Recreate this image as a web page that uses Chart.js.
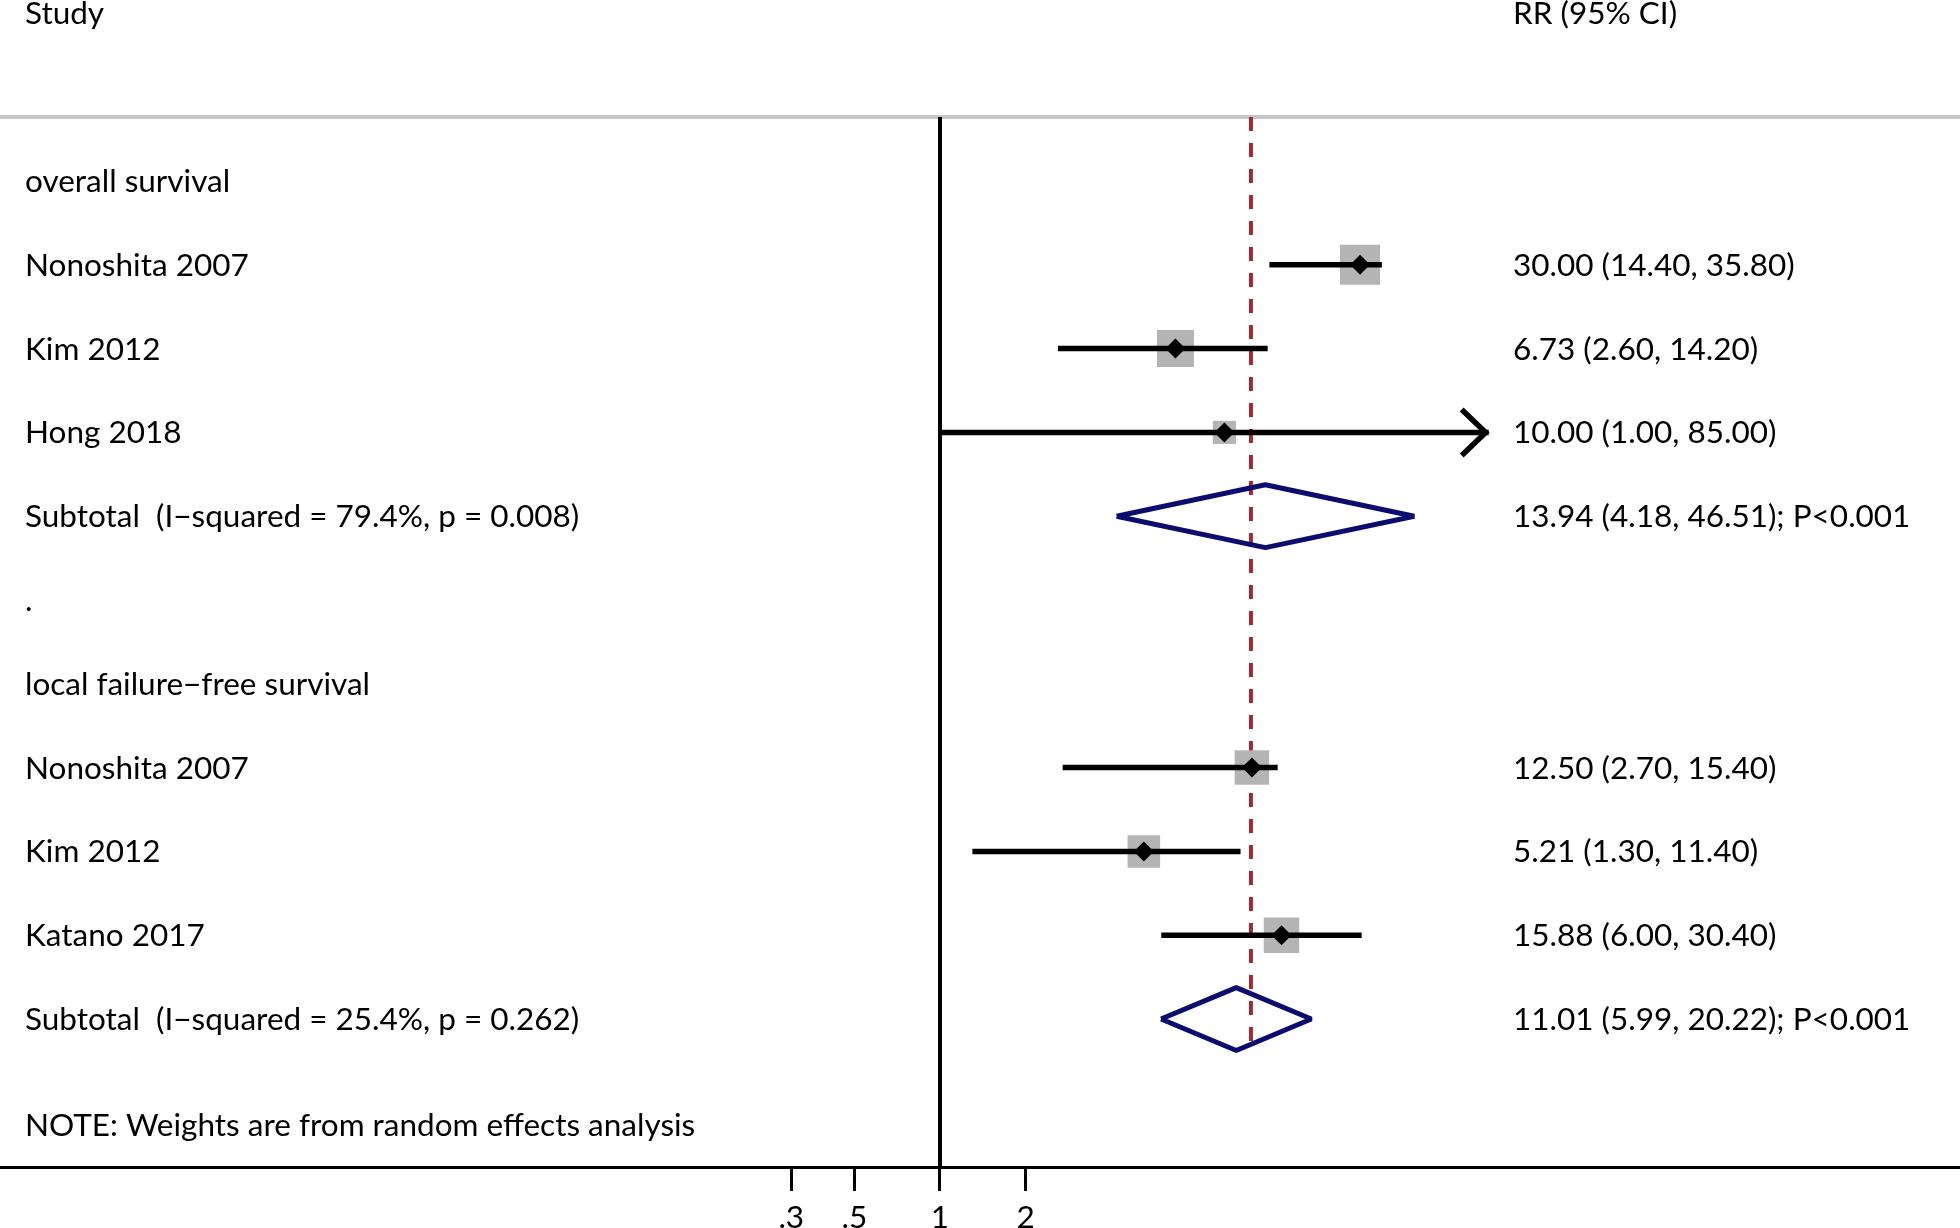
<!DOCTYPE html>
<html>
<head>
<meta charset="utf-8">
<title>Forest plot</title>
<script src="https://cdn.jsdelivr.net/npm/chart.js@4.4.1/dist/chart.umd.min.js"></script>
<style>
  html, body { margin: 0; padding: 0; background: #fff; }
  canvas { display: block; }
</style>
</head>
<body>
<canvas id="forest" width="1960" height="1228"></canvas>
<script>
// --- data ---
const studyLabels = ['Nonoshita 2007', 'Kim 2012', 'Hong 2018', 'Nonoshita 2007', 'Kim 2012', 'Katano 2017'];
const studyRows = [1, 2, 3, 7, 8, 9];
const studyRR = [30.00, 6.73, 10.00, 12.50, 5.21, 15.88];
const studyLo = [14.40, 2.60, 1.00, 2.70, 1.30, 6.00];
const studyHi = [35.80, 14.20, 85.00, 15.40, 11.40, 30.40];
const studyWeight = [45.7, 39.1, 15.2, 33.9, 30.2, 35.9];   // % (from box sizes)
const ciArrow = [false, false, true, false, false, false];

const subLabels = ['Subtotal  (I\u2212squared = 79.4%, p = 0.008)', 'Subtotal  (I\u2212squared = 25.4%, p = 0.262)'];
const subRows = [4, 10];
const subRR = [13.94, 11.01];
const subLo = [4.18, 5.99];
const subHi = [46.51, 20.22];
const subP = ['P<0.001', 'P<0.001'];

const headingLabels = ['overall survival', '.', 'local failure\u2212free survival'];
const headingRows = [0, 5, 6];

const overallRR = 12.4;
const xTicks = [0.3, 0.5, 1, 2];
const xTickLabels = ['.3', '.5', '1', '2'];

// --- layout ---
const X_MIN = Math.exp(-7.611), X_MAX = Math.exp(8.259);
const Y_MIN = -2.16, Y_MAX = 11.766;
const HEADER_ROW = -2, GRID_ROW = -0.764, DASH_END_ROW = 10.39, NOTE_ROW = 11.27;
const DIAMOND_HALF = 0.375;
const BOX_K = 5.92;
const FONT_PX = 31.5;
const LEFT_X = 25, RIGHT_X = 1513;

Chart.defaults.font.family = 'Lato';

const line = (data, color, width, order, extra) => Object.assign({
    data, showLine: true, borderColor: color, borderWidth: width,
    pointRadius: 0, fill: false, tension: 0, borderCapStyle: 'butt', order
}, extra || {});

const datasets = [];

// header rule, null line, overall dashed line
datasets.push(line([{ x: X_MIN, y: GRID_ROW }, { x: X_MAX, y: GRID_ROW }], '#c6c6c6', 4, 9));
datasets.push(line([{ x: 1, y: GRID_ROW }, { x: 1, y: Y_MAX }], '#000', 4, 8));
datasets.push(line([{ x: overallRR, y: GRID_ROW }, { x: overallRR, y: DASH_END_ROW }], '#9e2a36', 4, 7, { borderDash: [14, 12] }));

// subtotal diamonds
subRR.forEach((rr, i) => {
    const r = subRows[i];
    datasets.push(line([
        { x: subLo[i], y: r }, { x: rr, y: r - DIAMOND_HALF },
        { x: subHi[i], y: r }, { x: rr, y: r + DIAMOND_HALF }, { x: subLo[i], y: r }
    ], '#0c0c6e', 5, 6, { borderJoinStyle: 'bevel' }));
});

// weight boxes
datasets.push({
    data: studyRR.map((rr, i) => ({ x: rr, y: studyRows[i] })),
    pointStyle: 'rect',
    pointRadius: studyWeight.map(w => BOX_K * Math.sqrt(w) / Math.SQRT2),
    backgroundColor: '#b4b4b4', borderWidth: 0, order: 5
});

// confidence intervals
studyRR.forEach((rr, i) => {
    datasets.push(line([{ x: studyLo[i], y: studyRows[i] }, { x: studyHi[i], y: studyRows[i] }], '#000', 5.5, 2));
});

// point estimates
datasets.push({
    data: studyRR.map((rr, i) => ({ x: rr, y: studyRows[i] })),
    pointStyle: 'rectRot', pointRadius: 10,
    backgroundColor: '#000', borderWidth: 0, order: 0
});

const forestText = {
    id: 'forestText',
    afterDatasetsDraw(chart) {
        const { ctx, scales: { x, y } } = chart;
        ctx.save();

        // arrow heads for clipped intervals
        ctx.strokeStyle = '#000';
        ctx.lineWidth = 5.5;
        studyHi.forEach((hi, i) => {
            if (!ciArrow[i]) return;
            const px = x.getPixelForValue(hi) - 3, py = y.getPixelForValue(studyRows[i]);
            ctx.beginPath();
            ctx.moveTo(px - 24, py - 23);
            ctx.lineTo(px, py);
            ctx.lineTo(px - 24, py + 23);
            ctx.stroke();
        });

        ctx.fillStyle = '#000';
        ctx.font = FONT_PX + 'px Lato';
        ctx.textBaseline = 'alphabetic';
        const put = (s, px, row) => ctx.fillText(s, px, y.getPixelForValue(row) + 11);

        put('Study', LEFT_X, HEADER_ROW);
        put('RR (95% CI)', RIGHT_X, HEADER_ROW);
        headingLabels.forEach((s, i) => put(s, LEFT_X, headingRows[i]));
        studyLabels.forEach((s, i) => {
            put(s, LEFT_X, studyRows[i]);
            put(studyRR[i].toFixed(2) + ' (' + studyLo[i].toFixed(2) + ', ' + studyHi[i].toFixed(2) + ')', RIGHT_X, studyRows[i]);
        });
        subLabels.forEach((s, i) => {
            put(s, LEFT_X, subRows[i]);
            put(subRR[i].toFixed(2) + ' (' + subLo[i].toFixed(2) + ', ' + subHi[i].toFixed(2) + '); ' + subP[i], RIGHT_X, subRows[i]);
        });
        put('NOTE: Weights are from random effects analysis', LEFT_X, NOTE_ROW);
        ctx.restore();
    }
};

new Chart(document.getElementById('forest'), {
    type: 'scatter',
    data: { datasets },
    options: {
        responsive: false,
        animation: false,
        events: [],
        layout: { autoPadding: false, padding: 0 },
        plugins: { legend: { display: false }, tooltip: { enabled: false } },
        scales: {
            x: {
                type: 'logarithmic',
                min: X_MIN, max: X_MAX,
                bounds: 'data',
                afterBuildTicks: scale => { scale.ticks = xTicks.map(v => ({ value: v })); },
                afterFit: scale => { scale.height = 61; },
                grid: { drawOnChartArea: false, drawTicks: true, tickLength: 24, tickWidth: 3, tickColor: '#000' },
                border: { display: true, color: '#000', width: 3 },
                ticks: {
                    autoSkip: false, maxRotation: 0, padding: 8, color: '#000',
                    font: { size: FONT_PX },
                    callback: (v, i) => xTickLabels[i]
                }
            },
            y: {
                type: 'linear', reverse: true, display: false,
                min: Y_MIN, max: Y_MAX, bounds: 'data'
            }
        }
    },
    plugins: [forestText]
});
</script>
</body>
</html>
